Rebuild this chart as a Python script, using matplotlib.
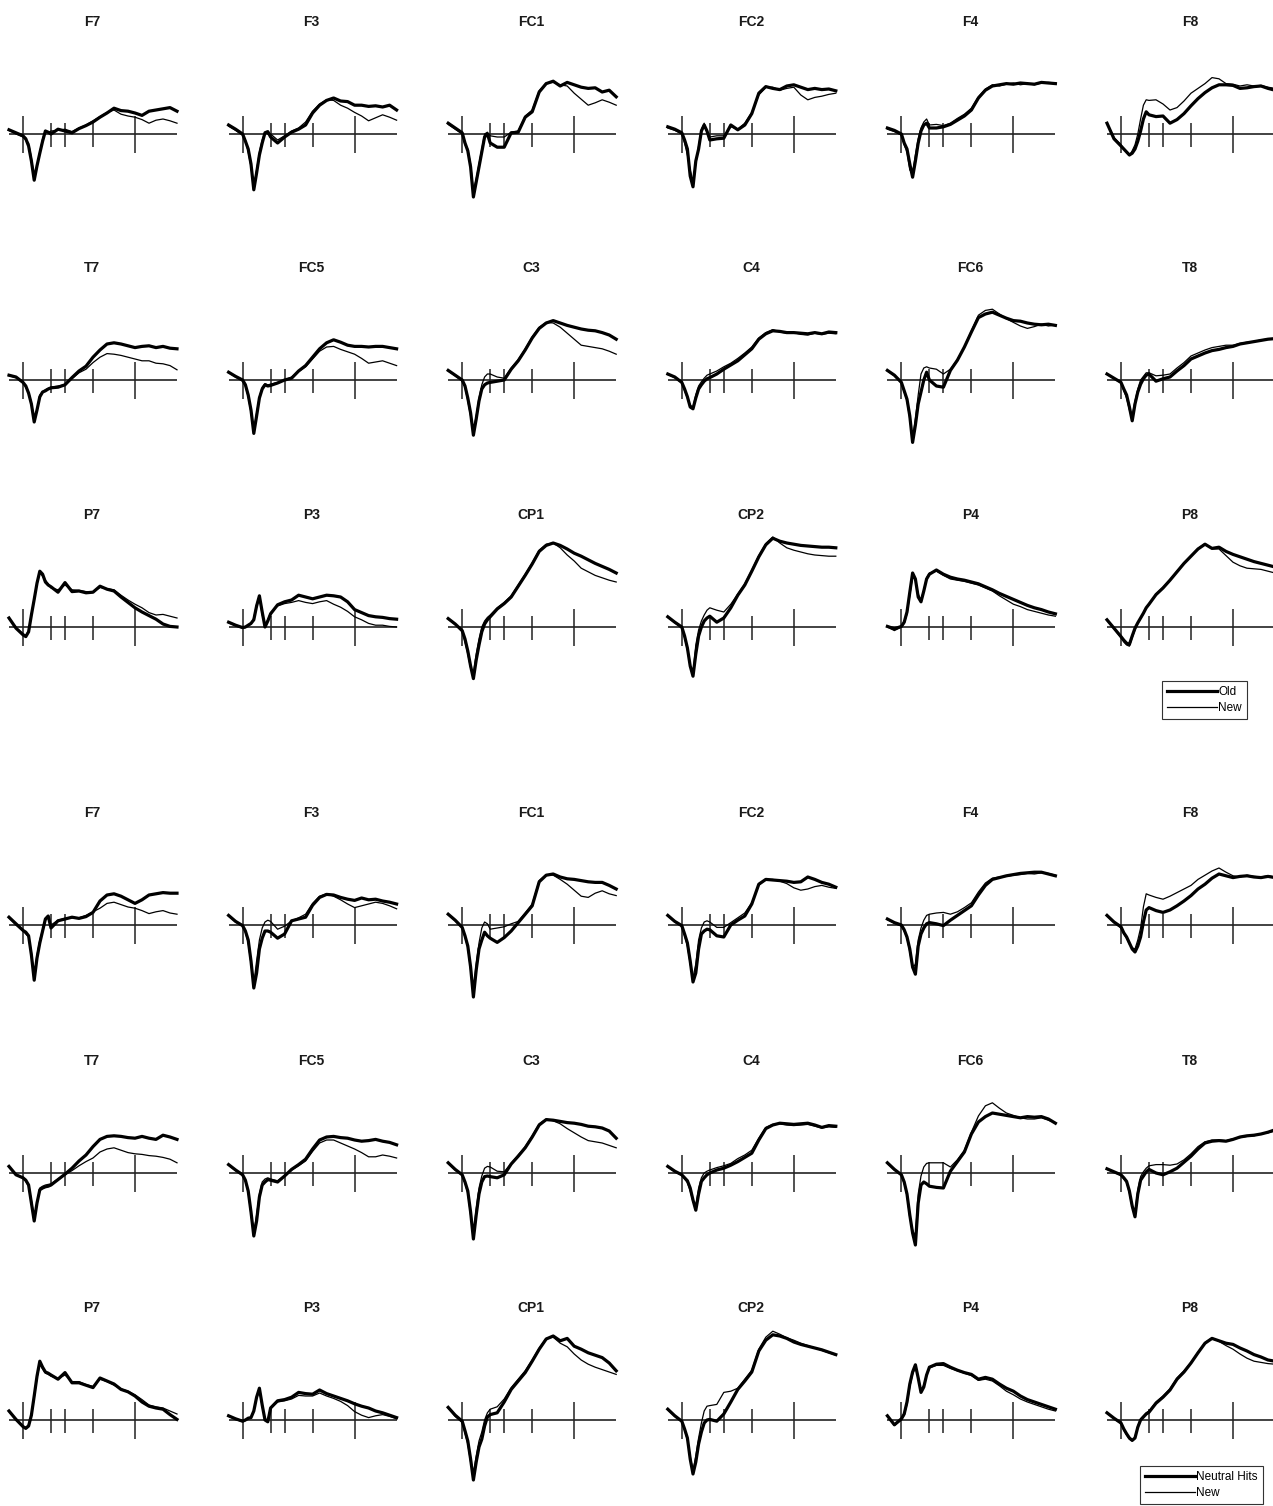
import matplotlib
matplotlib.use("Agg")
import matplotlib.pyplot as plt

plt.rcParams['font.family'] = ['Liberation Sans', 'DejaVu Sans']

# time axis (ms)
times = [-100, -50, 0, 20, 40, 60, 80, 100, 120, 140, 160, 180, 200, 250, 300, 350,
         400, 450, 500, 550, 600, 650, 700, 750, 800, 850, 900, 950, 1000, 1050, 1100]
tick_long = [0, 800]
tick_short = [200, 300, 500]

channels = ['F7', 'F3', 'FC1', 'FC2', 'F4', 'F8',
            'T7', 'FC5', 'C3', 'C4', 'FC6', 'T8',
            'P7', 'P3', 'CP1', 'CP2', 'P4', 'P8']
legend_a = ['Old', 'New']
legend_b = ['Neutral Hits', 'New']

# ---------------- first block (Old vs New), amplitudes in microvolts ----------------
f7_old_a = [0.7, 0.2, -0.3, -0.8, -2.0, -4.5, -7.7, -5.3, -3.2, -1.2, 0.5, 0.3, 0.0, 0.8, 0.5, 0.2, 0.9, 1.4, 2.0, 2.8, 3.5, 4.3, 3.9, 3.8, 3.5, 3.1, 3.8, 4.0, 4.2, 4.4, 3.8]
f7_new_a = [0.6, 0.0, -0.5, -1.0, -1.5, -4.0, -7.2, -5.5, -3.0, -0.8, 0.6, 0.2, 0.5, 0.6, 0.8, 0.4, 1.0, 1.5, 2.2, 2.9, 3.6, 4.0, 3.3, 3.0, 2.8, 2.4, 1.8, 2.3, 2.5, 2.2, 1.8]
f3_old_a = [1.5, 0.8, 0.0, -1.2, -2.5, -5.0, -9.3, -6.5, -3.5, -1.5, 0.2, 0.4, -0.5, -1.5, -0.5, 0.3, 0.8, 1.5, 3.5, 4.8, 5.6, 6.0, 5.5, 5.4, 4.8, 4.8, 4.6, 4.7, 4.5, 4.8, 4.0]
f3_new_a = [1.3, 0.6, -0.2, -1.0, -3.0, -5.5, -8.8, -6.0, -3.0, -1.0, 0.3, 0.0, 0.0, -1.0, -0.3, 0.5, 1.0, 2.0, 3.8, 5.0, 5.7, 5.6, 4.8, 4.3, 3.6, 3.0, 2.2, 2.7, 3.2, 2.8, 2.3]
fc1_old_a = [1.8, 1.0, 0.2, -1.5, -2.8, -5.5, -10.5, -8.0, -5.5, -3.0, -0.5, 0.0, -1.5, -2.2, -2.2, 0.2, 0.3, 2.8, 3.7, 7.0, 8.4, 8.8, 8.0, 8.6, 8.2, 7.8, 7.6, 7.7, 7.0, 7.3, 6.2]
fc1_new_a = [1.6, 0.8, 0.0, -1.8, -2.5, -5.0, -9.5, -7.5, -5.0, -2.5, 0.0, 0.3, -0.3, -0.5, -0.5, 0.3, 0.5, 3.0, 4.0, 7.2, 8.5, 8.6, 8.2, 8.0, 6.8, 5.8, 4.8, 5.2, 5.7, 5.3, 4.8]
fc2_old_a = [1.2, 0.8, 0.2, -1.0, -2.5, -7.0, -8.8, -4.5, -2.5, 0.5, 1.5, 0.5, -1.0, -0.8, -0.7, 1.5, 0.7, 1.5, 3.4, 6.8, 7.9, 7.6, 7.4, 8.0, 8.2, 7.8, 7.4, 7.6, 7.4, 7.5, 7.2]
fc2_new_a = [1.0, 0.6, 0.0, -1.5, -3.5, -6.0, -7.8, -5.0, -2.0, 0.8, 1.8, 0.2, -0.5, -0.3, -0.3, 1.2, 0.8, 1.8, 3.6, 6.5, 7.8, 7.8, 7.3, 7.6, 7.8, 6.5, 5.7, 6.1, 6.3, 6.6, 6.8]
f4_old_a = [1.0, 0.6, 0.0, -1.5, -2.5, -5.0, -7.2, -4.5, -1.5, 0.5, 1.5, 1.8, 1.0, 1.0, 1.2, 1.6, 2.3, 3.0, 4.0, 6.0, 7.3, 8.0, 8.2, 8.4, 8.3, 8.5, 8.4, 8.3, 8.6, 8.5, 8.4]
f4_new_a = [0.8, 0.4, -0.2, -1.8, -3.0, -6.0, -6.5, -3.5, -0.8, 1.0, 2.0, 2.5, 1.5, 1.6, 1.4, 1.8, 2.6, 3.3, 4.3, 6.2, 7.5, 8.2, 8.0, 8.3, 8.5, 8.2, 8.4, 8.2, 8.5, 8.6, 8.5]
f8_old_a = [1.8, -0.8, -2.0, -2.5, -3.0, -3.5, -3.2, -2.5, -1.2, 0.5, 2.5, 3.7, 3.2, 2.9, 3.0, 1.8, 2.4, 3.4, 4.7, 5.9, 6.9, 7.7, 8.2, 8.2, 8.1, 7.6, 7.7, 7.9, 8.0, 7.6, 7.3]
f8_new_a = [1.8, -0.6, -1.8, -2.5, -3.0, -3.6, -2.8, -1.8, 0.0, 2.5, 4.8, 5.7, 5.6, 5.7, 5.0, 4.0, 4.4, 5.5, 6.8, 7.6, 8.4, 9.4, 9.2, 8.4, 8.3, 8.0, 8.2, 8.0, 8.1, 7.8, 7.6]

t7_old_a = [0.8, 0.5, -0.4, -1.0, -2.2, -4.0, -7.0, -5.0, -2.8, -2.0, -1.8, -1.5, -1.3, -1.2, -0.8, 0.4, 1.5, 2.3, 3.8, 5.0, 6.0, 6.2, 6.0, 5.7, 5.4, 5.6, 5.7, 5.4, 5.6, 5.3, 5.2]
t7_new_a = [0.7, 0.4, -0.5, -1.2, -2.0, -3.8, -6.6, -5.0, -2.5, -2.0, -1.6, -1.4, -1.2, -1.0, -0.8, 0.2, 1.2, 1.8, 2.9, 3.8, 4.4, 4.3, 4.1, 3.8, 3.5, 3.2, 3.2, 2.8, 2.7, 2.4, 1.7]
fc5_old_a = [1.3, 0.6, 0.0, -0.8, -2.5, -5.0, -8.9, -6.0, -3.0, -1.5, -0.8, -1.0, -0.9, -0.5, 0.0, 0.3, 1.5, 2.4, 3.8, 5.2, 6.2, 6.7, 6.3, 5.8, 5.6, 5.6, 5.5, 5.6, 5.6, 5.4, 5.2]
fc5_new_a = [1.2, 0.5, -0.2, -1.0, -2.8, -5.5, -8.5, -5.5, -2.8, -1.2, -0.6, -0.8, -0.7, -0.4, 0.0, 0.5, 1.4, 2.2, 3.5, 4.8, 5.5, 5.6, 5.1, 4.7, 4.3, 3.6, 2.8, 3.0, 3.2, 2.8, 2.4]
c3_old_a = [1.6, 0.8, 0.0, -1.0, -3.0, -5.5, -9.2, -6.5, -3.5, -1.5, -0.8, -0.5, -0.4, -0.2, 0.0, 1.8, 3.2, 5.0, 7.0, 8.6, 9.5, 9.9, 9.5, 9.1, 8.8, 8.5, 8.3, 8.2, 7.9, 7.5, 6.8]
c3_new_a = [1.5, 0.7, -0.2, -1.2, -3.5, -6.0, -8.5, -6.0, -3.0, -0.8, 0.5, 1.0, 1.0, 0.5, 0.3, 2.0, 3.4, 5.2, 7.2, 8.8, 9.6, 9.5, 8.8, 7.8, 6.8, 5.8, 5.6, 5.4, 5.2, 4.8, 4.3]
c4_old_a = [1.0, 0.5, -0.4, -1.5, -2.8, -4.5, -4.8, -3.0, -1.5, -0.8, -0.2, 0.2, 0.4, 1.0, 1.8, 2.5, 3.2, 4.2, 5.2, 6.8, 7.7, 8.2, 8.1, 7.9, 7.9, 7.8, 7.7, 7.9, 7.7, 8.0, 7.9]
c4_new_a = [0.9, 0.4, -0.5, -1.8, -3.0, -4.2, -4.5, -2.5, -1.0, -0.3, 0.3, 0.8, 1.0, 1.5, 2.2, 2.8, 3.6, 4.5, 5.5, 7.0, 7.9, 8.4, 8.0, 7.8, 7.9, 7.6, 7.5, 7.8, 7.6, 7.8, 7.7]
fc6_old_a = [1.6, 0.8, -0.4, -1.8, -3.2, -6.0, -10.4, -7.5, -4.0, -2.0, 0.0, 1.3, 0.0, -1.0, -1.2, 1.6, 3.3, 5.5, 8.0, 10.4, 11.0, 11.3, 10.8, 10.3, 9.9, 9.8, 9.5, 9.3, 9.2, 9.3, 9.1]
fc6_new_a = [1.5, 0.7, -0.5, -2.0, -3.5, -6.5, -9.8, -6.5, -2.5, 1.0, 2.0, 2.2, 2.0, 1.8, 1.0, 1.8, 3.4, 5.6, 8.2, 10.8, 11.6, 11.8, 11.0, 10.2, 9.6, 9.0, 8.6, 8.9, 9.3, 9.0, 9.2]
t8_old_a = [1.0, 0.3, -0.4, -1.5, -2.5, -4.5, -6.8, -4.0, -2.0, -0.7, 0.2, 0.8, 1.0, -0.2, 0.2, 0.5, 1.5, 2.4, 3.5, 4.0, 4.5, 4.9, 5.1, 5.4, 5.6, 6.0, 6.2, 6.4, 6.6, 6.8, 6.9]
t8_new_a = [1.0, 0.2, -0.5, -1.8, -3.0, -5.0, -6.0, -3.5, -1.5, 0.0, 0.6, 1.2, 1.2, 0.7, 0.8, 1.0, 2.0, 2.9, 4.0, 4.5, 5.0, 5.4, 5.6, 5.8, 5.8, 6.1, 6.3, 6.4, 6.7, 6.8, 6.9]

p7_old_a = [1.5, -0.2, -1.3, -1.6, -0.8, 2.0, 4.6, 7.3, 9.3, 8.8, 7.5, 7.0, 6.7, 5.8, 7.4, 5.9, 6.0, 5.7, 5.8, 6.8, 6.3, 6.0, 5.0, 4.1, 3.2, 2.5, 1.9, 1.3, 0.5, 0.1, 0.0]
p7_new_a = [1.4, -0.1, -1.1, -1.4, -0.6, 2.2, 4.8, 7.2, 9.0, 8.5, 7.8, 7.2, 6.5, 6.2, 7.0, 6.2, 6.1, 5.9, 5.8, 6.6, 6.4, 6.2, 5.3, 4.5, 3.8, 3.2, 2.4, 2.0, 2.1, 1.8, 1.5]
p3_old_a = [0.8, 0.3, -0.1, 0.0, 0.3, 0.6, 1.2, 3.5, 5.2, 2.5, 0.0, 1.0, 2.2, 3.7, 4.2, 4.5, 5.3, 5.0, 4.7, 5.0, 5.3, 5.2, 5.0, 4.2, 2.9, 2.4, 1.9, 1.7, 1.6, 1.4, 1.3]
p3_new_a = [0.7, 0.2, -0.2, -0.1, 0.2, 0.5, 1.5, 3.8, 5.0, 2.0, 0.3, 1.2, 2.4, 3.5, 3.9, 4.1, 4.4, 4.1, 3.9, 4.2, 4.4, 3.8, 3.3, 2.6, 1.7, 1.2, 0.6, 0.3, 0.3, 0.1, 0.0]
cp1_old_a = [1.4, 0.5, -0.6, -2.0, -4.0, -6.5, -8.6, -5.5, -3.0, -0.8, 0.5, 1.2, 1.7, 3.0, 3.9, 5.0, 6.8, 8.6, 10.5, 12.6, 13.6, 14.0, 13.6, 13.0, 12.3, 11.8, 11.2, 10.6, 10.1, 9.6, 9.0]
cp1_new_a = [1.3, 0.4, -0.8, -2.5, -4.5, -6.8, -7.8, -4.5, -2.0, 0.0, 1.0, 1.6, 2.0, 3.2, 4.1, 5.2, 7.0, 8.8, 10.7, 12.8, 13.8, 14.0, 13.2, 12.0, 11.0, 9.8, 9.2, 8.6, 8.2, 7.8, 7.5]
cp2_old_a = [1.7, 0.8, 0.0, -1.5, -3.5, -6.5, -8.2, -4.5, -1.5, 0.0, 1.0, 1.5, 1.8, 0.8, 1.5, 3.2, 5.3, 7.0, 9.3, 11.7, 13.7, 14.8, 14.3, 14.0, 13.8, 13.6, 13.5, 13.4, 13.3, 13.3, 13.2]
cp2_new_a = [1.6, 0.7, -0.2, -1.8, -3.8, -6.5, -7.8, -3.0, -0.5, 1.0, 2.0, 2.8, 3.2, 2.8, 2.5, 3.8, 5.5, 7.2, 9.5, 11.9, 13.9, 15.0, 14.0, 13.2, 12.8, 12.5, 12.2, 12.0, 11.9, 11.8, 11.8]
p4_old_a = [0.1, -0.3, 0.1, 0.8, 2.5, 5.8, 9.0, 8.0, 5.0, 4.2, 6.0, 8.0, 8.8, 9.5, 8.8, 8.3, 8.0, 7.8, 7.5, 7.2, 6.7, 6.2, 5.6, 5.1, 4.6, 4.1, 3.6, 3.2, 2.9, 2.5, 2.2]
p4_new_a = [0.0, -0.6, 0.0, 0.6, 2.2, 5.2, 8.5, 7.8, 5.5, 4.5, 6.2, 8.2, 9.0, 9.3, 8.6, 8.0, 7.8, 7.6, 7.3, 7.0, 6.5, 6.0, 5.2, 4.5, 3.8, 3.4, 2.9, 2.6, 2.3, 2.0, 1.8]
p8_old_a = [1.2, -0.2, -1.6, -2.2, -2.7, -2.9, -1.5, -0.2, 0.7, 1.5, 2.3, 3.2, 3.8, 5.4, 6.5, 7.8, 9.2, 10.6, 11.8, 13.0, 13.8, 13.1, 13.3, 12.6, 12.1, 11.7, 11.3, 10.9, 10.6, 10.3, 10.0]
p8_new_a = [1.1, -0.3, -1.8, -2.5, -3.0, -3.2, -1.8, -0.5, 0.6, 1.4, 2.2, 3.1, 3.7, 5.5, 6.6, 7.9, 9.3, 10.7, 11.9, 13.1, 13.9, 13.0, 13.0, 11.9, 10.8, 10.2, 9.8, 9.7, 9.6, 9.3, 9.0]

# ---------------- second block (Neutral Hits vs New) ----------------
f7_old_b = [1.3, 0.2, -0.9, -1.2, -1.8, -5.0, -9.2, -5.5, -3.0, -1.0, 1.0, 1.5, -0.5, 0.7, 1.0, 1.3, 1.1, 1.4, 2.1, 4.0, 5.0, 5.2, 4.8, 4.2, 3.6, 4.2, 5.0, 5.2, 5.4, 5.3, 5.3]
f7_new_b = [1.2, 0.0, -1.0, -1.5, -2.0, -4.5, -8.5, -5.0, -2.5, -0.8, 0.8, 1.2, 0.0, 0.8, 1.1, 1.2, 1.2, 1.6, 2.2, 2.8, 3.6, 3.8, 3.4, 3.0, 2.8, 2.4, 1.9, 2.2, 2.4, 2.0, 1.8]
f3_old_b = [1.6, 0.6, -0.1, -1.0, -2.5, -6.0, -10.5, -8.0, -4.0, -2.2, -1.0, -1.0, -1.2, -2.2, -1.5, 0.7, 1.0, 1.3, 3.3, 4.6, 5.1, 5.0, 4.6, 4.3, 4.1, 4.5, 4.2, 4.3, 4.0, 3.8, 3.5]
f3_new_b = [1.5, 0.5, -0.2, -1.2, -3.0, -6.5, -9.8, -6.0, -2.5, -0.5, 0.5, 0.8, 0.6, -0.7, -0.2, 0.7, 1.2, 1.8, 3.6, 4.8, 5.2, 4.8, 4.2, 3.5, 2.9, 3.2, 3.5, 3.8, 3.6, 3.2, 2.7]
fc1_old_b = [1.8, 0.8, -0.4, -1.8, -3.5, -7.0, -12.0, -7.5, -4.0, -2.5, -1.2, -1.8, -2.2, -2.9, -2.1, -1.0, 0.4, 1.8, 3.2, 7.2, 8.3, 8.5, 8.0, 7.7, 7.6, 7.4, 7.2, 7.1, 7.1, 6.6, 6.0]
fc1_new_b = [1.7, 0.7, -0.5, -2.0, -3.8, -7.5, -11.0, -6.5, -3.0, -0.5, 0.5, 0.2, -0.7, -0.5, -0.3, 0.2, 0.6, 2.0, 3.5, 7.4, 8.4, 8.3, 7.6, 6.8, 5.8, 4.8, 4.6, 5.3, 5.7, 5.2, 4.9]
fc2_old_b = [1.6, 0.6, -0.1, -1.5, -3.0, -6.0, -9.5, -8.0, -4.0, -1.5, -1.0, -0.7, -0.8, -1.8, -2.0, 0.0, 0.8, 1.5, 3.5, 6.8, 7.6, 7.5, 7.4, 7.3, 7.1, 7.2, 8.0, 7.6, 7.1, 6.8, 6.3]
fc2_new_b = [1.5, 0.5, -0.3, -1.8, -3.5, -6.5, -8.8, -6.5, -2.5, -0.5, 0.5, 0.7, 0.5, -0.4, -0.4, 0.4, 1.2, 2.0, 3.7, 6.6, 7.6, 7.6, 7.3, 6.9, 6.2, 5.8, 6.0, 6.4, 6.6, 6.3, 6.1]
f4_old_b = [1.0, 0.4, 0.0, -0.8, -2.0, -4.0, -7.0, -8.2, -3.5, -1.5, -0.5, 0.2, 0.4, 0.2, -0.1, 0.8, 1.6, 2.4, 3.2, 5.0, 6.6, 7.6, 7.9, 8.2, 8.4, 8.6, 8.7, 8.8, 8.8, 8.5, 8.2]
f4_new_b = [0.9, 0.3, -0.2, -1.0, -2.2, -4.5, -7.3, -6.5, -2.5, -0.5, 0.8, 1.6, 1.8, 2.0, 2.1, 1.8, 2.2, 2.9, 3.7, 5.5, 7.0, 7.8, 8.0, 8.1, 8.3, 8.4, 8.6, 8.5, 8.7, 8.6, 8.3]
f8_old_b = [1.6, 0.5, -0.3, -1.3, -2.0, -3.0, -4.0, -4.5, -3.5, -2.0, 0.5, 2.5, 2.9, 2.4, 2.1, 2.5, 3.2, 4.0, 4.9, 6.0, 6.8, 7.8, 8.5, 8.2, 7.9, 8.1, 8.2, 8.0, 7.9, 8.1, 7.9]
f8_new_b = [1.5, 0.4, -0.5, -1.5, -2.2, -3.2, -3.8, -4.0, -2.5, -0.5, 3.0, 5.2, 5.0, 4.6, 4.3, 4.8, 5.4, 6.0, 6.6, 7.6, 8.3, 9.0, 9.5, 8.8, 8.2, 8.0, 8.3, 8.1, 8.0, 8.2, 8.0]

t7_old_b = [1.1, -0.3, -0.8, -1.2, -2.0, -5.0, -8.0, -5.0, -2.8, -2.5, -2.3, -2.2, -2.0, -1.1, -0.2, 0.8, 2.0, 3.0, 4.4, 5.6, 6.1, 6.2, 6.1, 5.9, 5.8, 6.1, 5.8, 5.6, 6.3, 6.0, 5.6]
t7_new_b = [1.0, -0.2, -0.9, -1.4, -2.2, -4.5, -7.5, -5.0, -2.5, -2.2, -2.0, -1.9, -1.8, -1.0, -0.3, 0.4, 1.2, 1.9, 2.5, 3.5, 4.0, 4.2, 3.8, 3.4, 3.2, 3.1, 2.9, 2.8, 2.6, 2.3, 1.7]
fc5_old_b = [1.4, 0.5, -0.3, -1.2, -3.0, -6.5, -10.5, -8.0, -4.0, -2.0, -1.5, -1.1, -1.2, -1.5, -0.5, 0.6, 1.4, 2.3, 4.0, 5.5, 6.0, 6.1, 5.9, 5.8, 5.5, 5.3, 5.4, 5.6, 5.3, 5.1, 4.7]
fc5_new_b = [1.3, 0.4, -0.4, -1.4, -3.2, -7.0, -10.0, -7.0, -3.5, -1.5, -1.0, -0.8, -1.0, -1.3, -0.4, 0.5, 1.2, 2.0, 3.6, 5.0, 5.5, 5.5, 5.0, 4.5, 4.0, 3.4, 2.7, 2.7, 3.0, 2.8, 2.5]
c3_old_b = [1.7, 0.6, -0.3, -1.5, -3.0, -6.5, -11.0, -7.0, -3.5, -1.5, -0.6, -0.5, -0.6, -0.8, -0.3, 1.5, 2.8, 4.2, 6.0, 8.0, 8.9, 8.8, 8.6, 8.4, 8.3, 8.1, 7.8, 7.7, 7.5, 7.0, 5.8]
c3_new_b = [1.6, 0.5, -0.4, -1.7, -3.4, -7.0, -10.2, -6.0, -2.5, -0.5, 0.8, 1.1, 1.0, 0.3, 0.2, 1.6, 3.0, 4.4, 6.2, 8.2, 9.0, 8.7, 8.2, 7.4, 6.7, 6.0, 5.4, 5.2, 5.0, 4.6, 4.2]
c4_old_b = [1.1, 0.3, -0.3, -0.8, -1.3, -2.5, -4.5, -6.2, -3.5, -1.4, -0.8, -0.3, 0.0, 0.5, 0.8, 1.3, 1.9, 2.6, 3.3, 5.5, 7.4, 8.0, 8.3, 8.2, 8.1, 8.2, 8.3, 8.0, 7.6, 7.9, 7.8]
c4_new_b = [1.0, 0.2, -0.4, -1.0, -1.6, -3.0, -4.8, -5.5, -2.5, -0.8, 0.0, 0.3, 0.5, 0.9, 1.2, 1.6, 2.4, 3.0, 3.8, 5.8, 7.6, 8.1, 8.2, 8.0, 7.9, 8.0, 8.1, 7.8, 7.5, 7.7, 7.6]
fc6_old_b = [1.7, 0.6, -0.3, -1.5, -3.5, -7.0, -10.0, -12.0, -5.0, -2.0, -1.5, -1.8, -2.2, -2.4, -2.5, 0.3, 1.9, 3.5, 6.5, 8.5, 9.4, 10.0, 9.8, 9.6, 9.4, 9.2, 9.4, 9.3, 9.4, 9.0, 8.3]
fc6_new_b = [1.6, 0.5, -0.4, -1.7, -3.8, -7.5, -9.5, -10.5, -3.5, -0.5, 1.0, 1.6, 1.7, 1.7, 1.7, 1.0, 2.2, 3.8, 6.8, 9.5, 11.2, 11.7, 10.8, 10.0, 9.6, 9.2, 9.0, 9.0, 9.2, 8.8, 8.4]
t8_old_b = [0.7, 0.2, -0.3, -0.8, -1.4, -3.0, -5.5, -7.3, -3.5, -1.2, -0.5, 0.2, 0.6, 0.0, -0.3, 0.2, 0.8, 1.8, 2.8, 4.0, 5.0, 5.3, 5.4, 5.3, 5.6, 6.0, 6.2, 6.3, 6.5, 6.8, 7.2]
t8_new_b = [0.6, 0.1, -0.4, -1.0, -1.6, -3.3, -5.8, -6.5, -2.8, -0.6, 0.2, 0.8, 1.2, 1.4, 1.4, 1.3, 1.5, 2.2, 3.2, 4.4, 5.2, 5.5, 5.5, 5.4, 5.7, 5.9, 6.1, 6.2, 6.5, 6.7, 7.0]

p7_old_b = [1.5, 0.1, -1.1, -1.4, -1.0, 0.8, 4.0, 7.3, 9.8, 8.8, 8.0, 7.8, 7.5, 6.8, 7.9, 6.2, 6.2, 5.8, 5.4, 7.0, 6.5, 6.0, 5.1, 4.7, 4.0, 3.0, 2.3, 2.0, 1.8, 0.9, 0.1]
p7_new_b = [1.4, 0.0, -1.0, -1.2, -0.8, 0.6, 3.7, 7.0, 9.3, 8.5, 7.8, 7.6, 7.3, 6.9, 7.5, 6.4, 6.4, 5.9, 5.6, 6.8, 6.4, 5.8, 5.2, 4.8, 4.2, 3.4, 2.5, 2.2, 2.0, 1.5, 1.0]
p3_old_b = [0.7, 0.2, -0.2, 0.0, 0.3, 0.4, 1.5, 3.8, 5.3, 2.5, 0.0, -0.3, 2.0, 3.2, 3.4, 3.8, 4.6, 4.4, 4.3, 5.0, 4.4, 4.0, 3.6, 3.2, 2.7, 2.3, 2.0, 1.5, 1.2, 0.8, 0.4]
p3_new_b = [0.6, 0.1, -0.3, -0.1, 0.2, 0.4, 1.6, 3.6, 5.0, 2.2, 0.2, 0.0, 2.0, 3.0, 3.2, 3.5, 4.1, 4.0, 4.0, 4.5, 4.0, 3.6, 3.1, 2.4, 1.4, 0.8, 0.4, 0.7, 0.9, 0.6, 0.2]
cp1_old_b = [2.1, 0.8, -0.2, -1.8, -3.5, -6.5, -10.0, -7.0, -4.5, -3.2, -1.0, 0.5, 0.9, 1.2, 3.0, 5.1, 6.5, 7.9, 9.8, 11.8, 13.5, 14.0, 13.2, 13.6, 12.3, 11.8, 11.2, 10.8, 10.4, 9.5, 8.2]
cp1_new_b = [2.0, 0.6, -0.4, -2.2, -4.0, -7.0, -9.0, -6.0, -3.5, -2.0, 0.0, 1.2, 1.8, 2.2, 3.5, 5.4, 6.8, 8.2, 10.0, 12.0, 13.6, 13.8, 12.8, 12.2, 11.0, 10.0, 9.3, 8.8, 8.4, 8.0, 7.6]
cp2_old_b = [1.8, 0.7, -0.2, -1.5, -3.0, -6.5, -9.0, -7.0, -4.0, -2.0, -0.5, 0.0, 0.1, -0.2, 1.0, 3.0, 5.1, 6.5, 8.0, 11.5, 13.3, 14.2, 14.0, 13.6, 13.0, 12.6, 12.3, 12.0, 11.7, 11.3, 10.9]
cp2_new_b = [1.7, 0.6, -0.3, -1.7, -3.3, -6.0, -8.5, -6.0, -3.0, -0.5, 1.5, 2.3, 2.4, 2.6, 4.6, 4.8, 5.3, 6.8, 8.3, 11.8, 13.8, 14.8, 14.3, 13.7, 13.3, 12.8, 12.4, 12.0, 11.6, 11.2, 10.8]
p4_old_b = [0.7, -0.8, 0.2, 1.0, 3.0, 6.0, 8.0, 9.2, 7.0, 4.6, 5.5, 7.5, 8.8, 9.3, 9.4, 8.8, 8.3, 7.9, 7.6, 6.8, 7.1, 6.8, 6.0, 5.3, 4.8, 4.0, 3.4, 3.0, 2.6, 2.2, 1.8]
p4_new_b = [0.6, -0.9, 0.0, 0.8, 2.6, 5.5, 7.6, 8.8, 7.2, 5.0, 5.8, 7.6, 8.7, 9.1, 9.1, 8.6, 8.2, 7.8, 7.4, 6.6, 6.8, 6.5, 5.7, 4.8, 4.2, 3.5, 3.0, 2.6, 2.2, 1.8, 1.5]
p8_old_b = [1.2, 0.3, -0.5, -1.5, -2.3, -3.0, -3.4, -3.0, -1.2, 0.0, 0.5, 1.0, 1.3, 2.8, 3.8, 5.0, 6.8, 8.0, 9.5, 11.2, 12.8, 13.6, 13.2, 12.8, 12.6, 12.0, 11.5, 10.9, 10.5, 10.0, 9.8]
p8_new_b = [1.1, 0.2, -0.6, -1.7, -2.5, -3.2, -3.5, -2.8, -1.0, 0.2, 0.7, 1.2, 1.5, 3.0, 4.0, 5.2, 7.0, 8.2, 9.6, 11.3, 12.9, 13.7, 13.1, 12.4, 11.8, 11.0, 10.3, 9.8, 9.6, 9.4, 9.3]

old_a = [f7_old_a, f3_old_a, fc1_old_a, fc2_old_a, f4_old_a, f8_old_a,
         t7_old_a, fc5_old_a, c3_old_a, c4_old_a, fc6_old_a, t8_old_a,
         p7_old_a, p3_old_a, cp1_old_a, cp2_old_a, p4_old_a, p8_old_a]
new_a = [f7_new_a, f3_new_a, fc1_new_a, fc2_new_a, f4_new_a, f8_new_a,
         t7_new_a, fc5_new_a, c3_new_a, c4_new_a, fc6_new_a, t8_new_a,
         p7_new_a, p3_new_a, cp1_new_a, cp2_new_a, p4_new_a, p8_new_a]
old_b = [f7_old_b, f3_old_b, fc1_old_b, fc2_old_b, f4_old_b, f8_old_b,
         t7_old_b, fc5_old_b, c3_old_b, c4_old_b, fc6_old_b, t8_old_b,
         p7_old_b, p3_old_b, cp1_old_b, cp2_old_b, p4_old_b, p8_old_b]
new_b = [f7_new_b, f3_new_b, fc1_new_b, fc2_new_b, f4_new_b, f8_new_b,
         t7_new_b, fc5_new_b, c3_new_b, c4_new_b, fc6_new_b, t8_new_b,
         p7_new_b, p3_new_b, cp1_new_b, cp2_new_b, p4_new_b, p8_new_b]

# ---------------- layout (pixel geometry) ----------------
W, H, DPI = 1273, 1506, 100
PX_PER_UV = 6.0
col_zero_x = [23 + 219.6 * c for c in range(6)]
row_base_y = [134, 380, 627, 925, 1173, 1420]
title_off = 112
half_h = 100

fig = plt.figure(figsize=(W / DPI, H / DPI), dpi=DPI)
fig.patch.set_facecolor('white')

handles = {}
blocks = [(old_a, new_a, legend_a, 0), (old_b, new_b, legend_b, 3)]
for old_set, new_set, labels, row0 in blocks:
    for i, ch in enumerate(channels):
        r = row0 + i // 6
        c = i % 6
        zx = col_zero_x[c]
        by = row_base_y[r]
        left = (zx - 14) / W
        width = 168 / W
        bottom = 1 - (by + half_h) / H
        height = 2 * half_h / H
        ax = fig.add_axes([left, bottom, width, height])
        ax.set_xlim(-100, 1100)
        lim = half_h / PX_PER_UV
        ax.set_ylim(-lim, lim)
        ax.axis('off')
        ax.plot([-100, 1100], [0, 0], color='#222222', lw=1.2, solid_capstyle='butt', zorder=1)
        ax.vlines(tick_long, -3.2, 3.0, color='#222222', lw=1.1, zorder=1)
        ax.vlines(tick_short, -2.2, 1.9, color='#222222', lw=1.1, zorder=1)
        l_old, = ax.plot(times, old_set[i], color='black', lw=2.3, solid_joinstyle='round', zorder=3, clip_on=False)
        l_new, = ax.plot(times, new_set[i], color='black', lw=0.9, solid_joinstyle='round', zorder=4, clip_on=False)
        fig.text((zx + 69) / W, 1 - (by - title_off) / H, ch, ha='center', va='center',
                 fontsize=10, fontweight='bold', color='#1a1a1a')
    handles[row0] = (l_old, l_new)

# legends
leg_pos = {0: (1162, 681), 3: (1140, 1466)}
for (old_set, new_set, labels, row0) in blocks:
    lx, ly = leg_pos[row0]
    leg = fig.legend(handles[row0], labels, loc='upper left',
                     bbox_to_anchor=(lx / W, 1 - ly / H), bbox_transform=fig.transFigure,
                     frameon=True, fancybox=False, framealpha=1, edgecolor='#333333',
                     fontsize=8.5, handlelength=4.2, handletextpad=0.1,
                     borderpad=0.45, labelspacing=0.3, borderaxespad=0)
    leg.get_frame().set_linewidth(0.8)

fig.savefig('out.png', dpi=DPI, facecolor='white')
